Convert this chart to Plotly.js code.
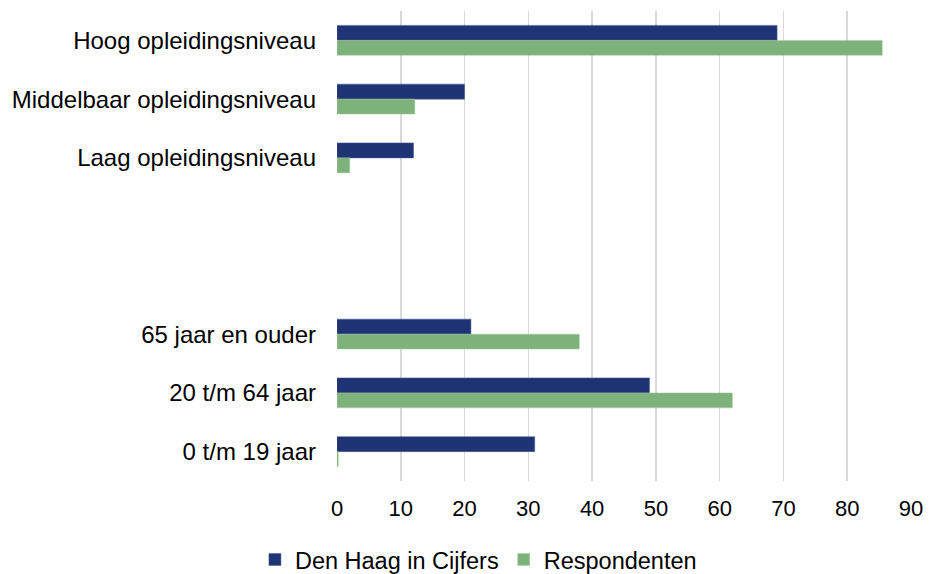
<!DOCTYPE html>
<html>
<head>
<meta charset="utf-8">
<script src="https://cdn.plot.ly/plotly-3.0.1.min.js"></script>
<style>html,body{margin:0;padding:0;background:#fff;}#chart{width:929px;height:574px;}</style>
</head>
<body>
<div id="chart"></div>
<script>
const categories = [
  "Hoog opleidingsniveau",
  "Middelbaar opleidingsniveau",
  "Laag opleidingsniveau",
  " ",
  "  ",
  "65 jaar en ouder",
  "20 t/m 64 jaar",
  "0 t/m 19 jaar"
];
const denHaagInCijfers = [69, 20, 12, null, null, 21, 49, 31];
const respondenten = [85.5, 12.2, 2, null, null, 38, 62, 0.2];
const seriesNames = ["Den Haag in Cijfers", "Respondenten"];
const xTicks = [0, 10, 20, 30, 40, 50, 60, 70, 80, 90];

const fontFam = "Liberation Sans, Arial, sans-serif";
const traces = [
  {type: "bar", orientation: "h", name: seriesNames[0], y: categories, x: denHaagInCijfers,
   marker: {color: "#1F3474", line: {color: "#4a5a94", width: 0.5}}, hoverinfo: "x+y"},
  {type: "bar", orientation: "h", name: seriesNames[1], y: categories, x: respondenten,
   marker: {color: "#7DB37A", line: {color: "#a8cfa6", width: 0.5}}, hoverinfo: "x+y"}
];
const layout = {
  width: 929, height: 574,
  margin: {l: 337, r: 18, t: 11, b: 93},
  paper_bgcolor: "#fff", plot_bgcolor: "#fff",
  barmode: "group", bargap: 0.49, bargroupgap: 0,
  font: {family: fontFam, size: 22, color: "#000"},
  xaxis: {range: [0, 90], tickvals: xTicks, ticktext: xTicks.map(String),
    showgrid: true, gridcolor: "#d9d9d9", gridwidth: 1.5, zeroline: false,
    showline: false, ticks: "", ticklabelstandoff: 12, fixedrange: true,
    tickfont: {family: fontFam, size: 22, color: "#000"}},
  yaxis: {type: "category", categoryorder: "array", categoryarray: categories,
    autorange: "reversed", showgrid: false, zeroline: false, showline: false,
    ticks: "", ticklabelstandoff: 20, fixedrange: true,
    tickfont: {family: fontFam, size: 24, color: "#000"}},
  showlegend: true,
  legend: {orientation: "h", xref: "container", yref: "container",
    x: 0.515, xanchor: "center", y: 0.025, yanchor: "middle",
    font: {family: fontFam, size: 23.5, color: "#000"}, traceorder: "normal"}
};
Plotly.newPlot("chart", traces, layout, {displayModeBar: false, staticPlot: true});
</script>
</body>
</html>
